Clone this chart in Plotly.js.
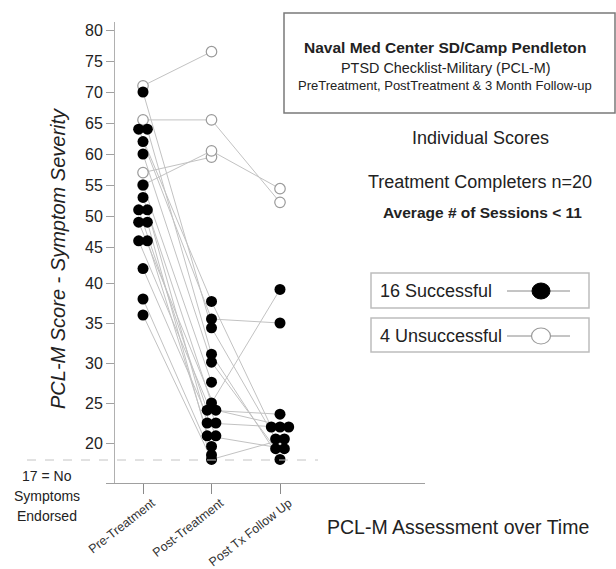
<!DOCTYPE html>
<html>
<head>
<meta charset="utf-8">
<script src="https://cdn.plot.ly/plotly-3.0.1.min.js"></script>
<style>
  html, body { margin: 0; padding: 0; background: #fff; }
  #chart { width: 616px; height: 569px; }
</style>
</head>
<body>
<div id="chart"></div>
<script>
// ---------------- DATA ----------------
const categories = ['Pre-Treatment', 'Post-Treatment', 'Post Tx Follow Up'];

// 16 successful completers (filled markers)
const successPre    = [70, 64, 64, 62, 60, 55, 53, 51, 51, 49, 49, 46, 46, 42, 38, 36];
const successPost   = [34.4, 37.7, 31.1, 35.5, 30.1, 27.6, 25, 24.1, 22.5, 24.1, 20.9, 22.5, 19.4, 20.9, 17.9, 17.1];
const successFollow = [20.5, 22, 17.1, 35, 19, null, 39.2, 23.6, 22, 22, 19, null, null, null, null, 20.5];

// 4 unsuccessful completers (open markers)
const failPre    = [71, 65.5, 57, 55];
const failPost   = [76.5, 65.5, 59.5, 60.5];
const failFollow = [null, 52.2, null, 54.4];

// y-axis tick labels (the original axis is non-uniform)
const yTickValues = [20, 25, 30, 35, 40, 45, 50, 55, 60, 65, 70, 75, 80];
const noSymptomScore = 17;

// ---------------- SCALE ----------------
// the reference axis is drawn piecewise: tighter spacing above 45
const scaleKnots = [17, 20, 40, 45, 80];
const scaleHeights = [23, 40, 200, 236, 453];   // height above the axis base
const yRangeTop = 461;
function toD(v) {
  if (v === null || v === undefined) return null;
  let i = 0;
  while (i < scaleKnots.length - 2 && v > scaleKnots[i + 1]) i++;
  const k0 = scaleKnots[i], k1 = scaleKnots[i + 1];
  const h0 = scaleHeights[i], h1 = scaleHeights[i + 1];
  return h0 + (v - k0) * (h1 - h0) / (k1 - k0);
}

// dodge identical values side by side within a column
const dodgeStep = 0.127;
function dodge(values, col) {
  const counts = {}, seen = {};
  values.forEach(v => { if (v !== null) counts[v] = (counts[v] || 0) + 1; });
  return values.map(v => {
    if (v === null) return null;
    const n = counts[v];
    const i = seen[v] || 0;
    seen[v] = i + 1;
    return col + (i - (n - 1) / 2) * dodgeStep;
  });
}

const sx = [dodge(successPre, 0), dodge(successPost, 1), dodge(successFollow, 2)];
const fx = [failPre.map(() => 0), failPost.map(() => 1), failFollow.map(() => 2)];
const sVals = [successPre, successPost, successFollow];
const fVals = [failPre, failPost, failFollow];

const lineColor = '#c2c2c2';
const traces = [];

// connecting lines for each person
function addLines(xs, vals, n) {
  for (let i = 0; i < n; i++) {
    traces.push({
      type: 'scatter', mode: 'lines',
      x: [xs[0][i], xs[1][i], xs[2][i]],
      y: [toD(vals[0][i]), toD(vals[1][i]), toD(vals[2][i])],
      line: { color: lineColor, width: 1 },
      hoverinfo: 'skip', connectgaps: false
    });
  }
}
addLines(fx, fVals, failPre.length);
addLines(sx, sVals, successPre.length);

function collect(xs, vals) {
  const X = [], Y = [];
  for (let c = 0; c < 3; c++) {
    vals[c].forEach((v, i) => { if (v !== null) { X.push(xs[c][i]); Y.push(toD(v)); } });
  }
  return { X, Y };
}
const fp = collect(fx, fVals);
const sp = collect(sx, sVals);

traces.push({
  type: 'scatter', mode: 'markers', x: fp.X, y: fp.Y,
  marker: { symbol: 'circle', size: 10.5, color: '#ffffff', line: { color: '#9a9a9a', width: 1.2 } },
  hoverinfo: 'skip'
});
traces.push({
  type: 'scatter', mode: 'markers', x: sp.X, y: sp.Y,
  marker: { symbol: 'circle', size: 11, color: '#000000', line: { color: '#000', width: 0 } },
  hoverinfo: 'skip'
});

// ---------------- LAYOUT HELPERS ----------------
const L = 115, R = 425, T = 22, B = 483;
const px = p => (p - L) / (R - L);
const py = p => (B - p) / (B - T);
const font = 'Liberation Sans, Arial, Helvetica, sans-serif';
const txt = '#222';

function ann(text, x, y, size, opts) {
  return Object.assign({
    text: text, xref: 'paper', yref: 'paper', x: px(x), y: py(y),
    xanchor: 'center', yanchor: 'middle', showarrow: false,
    font: { family: font, size: size, color: txt }
  }, opts || {});
}

const annotations = [
  ann('<b>Naval Med Center SD/Camp Pendleton</b>', 445, 47, 15.5),
  ann('PTSD Checklist-Military (PCL-M)', 445, 68, 14.4),
  ann('PreTreatment, PostTreatment &amp; 3 Month Follow-up', 445, 86, 13),
  ann('Individual Scores', 480, 138, 18),
  ann('Treatment Completers n=20', 480, 182, 18),
  ann('<b>Average # of Sessions &lt; 11</b>', 482, 212, 15.5),
  ann('16 Successful', 378, 291, 18, { xanchor: 'left' }),
  ann('4 Unsuccessful', 378, 336, 18, { xanchor: 'left' }),
  ann('PCL-M Assessment over Time', 458, 527, 19.5),
  ann('<i>PCL-M Score - Symptom Severity</i>', 58, 259, 20, { textangle: -90 }),
  ann(noSymptomScore + ' = No', 47, 476, 14),
  ann('Symptoms', 47, 496, 14),
  ann('Endorsed', 47, 516, 14)
];

const shapes = [
  // 17 = no symptoms reference line
  { type: 'line', xref: 'paper', yref: 'paper', x0: px(27), x1: px(318),
    y0: toD(noSymptomScore) / yRangeTop, y1: toD(noSymptomScore) / yRangeTop,
    line: { color: '#c4c4c4', width: 1, dash: 'dash' } },
  // title box
  { type: 'rect', xref: 'paper', yref: 'paper', x0: px(284), x1: px(615), y0: py(113), y1: py(13),
    line: { color: '#7a7a7a', width: 1.5 }, fillcolor: 'rgba(0,0,0,0)' },
  // legend boxes
  { type: 'rect', xref: 'paper', yref: 'paper', x0: px(371), x1: px(589), y0: py(308), y1: py(273),
    line: { color: '#bdbdbd', width: 1.5 }, fillcolor: 'rgba(0,0,0,0)' },
  { type: 'rect', xref: 'paper', yref: 'paper', x0: px(371), x1: px(589), y0: py(352), y1: py(318),
    line: { color: '#bdbdbd', width: 1.5 }, fillcolor: 'rgba(0,0,0,0)' },
  // legend line samples
  { type: 'line', xref: 'paper', yref: 'paper', x0: px(507), x1: px(570), y0: py(291), y1: py(291),
    line: { color: '#8a8a8a', width: 1 } },
  { type: 'line', xref: 'paper', yref: 'paper', x0: px(507), x1: px(570), y0: py(336), y1: py(336),
    line: { color: '#8a8a8a', width: 1 } },
  // legend markers
  { type: 'circle', xref: 'paper', yref: 'paper', x0: px(532), x1: px(550), y0: py(299), y1: py(283),
    line: { color: '#000', width: 1 }, fillcolor: '#000' },
  { type: 'circle', xref: 'paper', yref: 'paper', x0: px(531.5), x1: px(550.5), y0: py(344), y1: py(328),
    line: { color: '#9a9a9a', width: 1.2 }, fillcolor: '#fff' }
];

const layout = {
  width: 616, height: 569,
  margin: { l: L, r: 616 - R, t: T, b: 569 - B, pad: 0 },
  paper_bgcolor: '#fff', plot_bgcolor: '#fff',
  showlegend: false, hovermode: false,
  font: { family: font, color: txt },
  xaxis: {
    range: [-0.409, 4.117], tickvals: [0, 1, 2], ticktext: categories,
    tickangle: -38, ticks: 'outside', ticklen: 10, tickcolor: '#8a8a8a', tickwidth: 1,
    ticklabelstandoff: -3, ticklabelshift: 9,
    showline: true, linecolor: '#a0a0a0', linewidth: 1,
    showgrid: false, zeroline: false,
    tickfont: { family: font, size: 12.5, color: '#333' }
  },
  yaxis: {
    range: [0, yRangeTop],
    tickvals: [0].concat(yTickValues.map(toD)),
    ticktext: [''].concat(yTickValues.map(String)),
    ticks: 'outside', ticklen: 8, tickcolor: '#a0a0a0', tickwidth: 1,
    showline: true, linecolor: '#b0b0b0', linewidth: 1,
    showgrid: false, zeroline: false,
    tickfont: { family: font, size: 16, color: '#222' }
  },
  annotations: annotations,
  shapes: shapes
};

Plotly.newPlot('chart', traces, layout, { staticPlot: true, displayModeBar: false });
</script>
</body>
</html>
